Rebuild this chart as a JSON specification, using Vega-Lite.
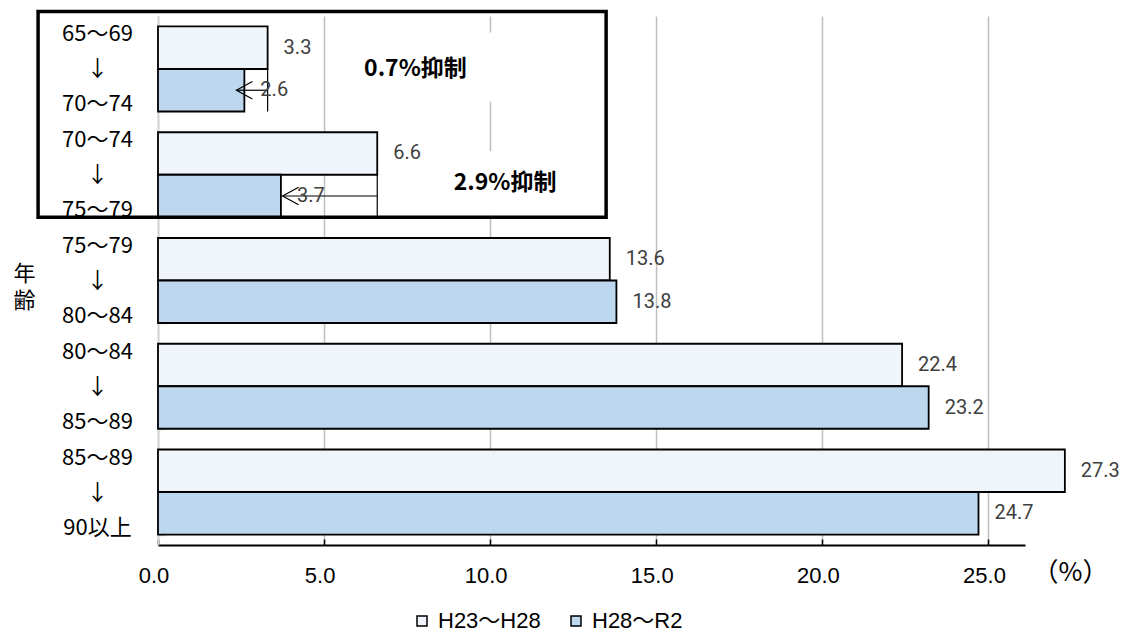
{
  "$schema": "https://vega.github.io/schema/vega-lite/v6.json",
  "width": 867,
  "height": 529,
  "autosize": {"type": "none"},
  "padding": {"left": 158, "top": 16, "right": 97, "bottom": 87},
  "background": "white",
  "config": {"view": {"stroke": null}, "font": "Liberation Sans, Noto Sans CJK JP"},
  "datasets": {
    "bars": [
      {"age": "65～69\n↓\n70～74", "period": "H23～H28", "rate": 3.3},
      {"age": "65～69\n↓\n70～74", "period": "H28～R2", "rate": 2.6},
      {"age": "70～74\n↓\n75～79", "period": "H23～H28", "rate": 6.6},
      {"age": "70～74\n↓\n75～79", "period": "H28～R2", "rate": 3.7},
      {"age": "75～79\n↓\n80～84", "period": "H23～H28", "rate": 13.6},
      {"age": "75～79\n↓\n80～84", "period": "H28～R2", "rate": 13.8},
      {"age": "80～84\n↓\n85～89", "period": "H23～H28", "rate": 22.4},
      {"age": "80～84\n↓\n85～89", "period": "H28～R2", "rate": 23.2},
      {"age": "85～89\n↓\n90以上", "period": "H23～H28", "rate": 27.3},
      {"age": "85～89\n↓\n90以上", "period": "H28～R2", "rate": 24.7}
    ],
    "arrows": [
      {"age": "65～69\n↓\n70～74", "period": "H28～R2", "from": 3.3, "to": 2.36},
      {"age": "70～74\n↓\n75～79", "period": "H28～R2", "from": 6.6, "to": 3.75}
    ],
    "box": [
      {"top": "65～69\n↓\n70～74", "bottom": "70～74\n↓\n75～79", "left": -3.61, "right": 13.49}
    ],
    "note1": [{"age": "65～69\n↓\n70～74", "x": 7.75, "left": 6.0, "right": 13.3, "text": "0.7%抑制"}],
    "note2": [{"age": "70～74\n↓\n75～79", "x": 10.45, "left": 7.0, "right": 13.3, "text": "2.9%抑制"}]
  },
  "layer": [
    {
      "data": {"name": "bars"},
      "mark": {"type": "bar", "stroke": "black", "strokeWidth": 1.8},
      "encoding": {
        "y": {
          "field": "age", "type": "nominal",
          "scale": {
            "domain": ["65～69\n↓\n70～74", "70～74\n↓\n75～79", "75～79\n↓\n80～84", "80～84\n↓\n85～89", "85～89\n↓\n90以上"],
            "paddingInner": 0.196, "paddingOuter": 0.099
          },
          "axis": {
            "title": ["年", "齢"], "titleAngle": 0, "titleX": -134, "titleY": 257,
            "titleAlign": "center", "titleBaseline": "middle", "titleLineHeight": 27,
            "titleFontSize": 22, "titleFontWeight": "normal", "titleColor": "black",
            "titleFont": "Noto Sans CJK JP",
            "labelExpr": "split(datum.label, '\\n')",
            "labelAlign": "center", "labelBaseline": "middle", "labelLineHeight": 35,
            "labelOffset": -35,
            "labelFontSize": 22, "labelFont": "Noto Sans CJK JP", "labelPadding": 68, "labelColor": "black",
            "tickSize": -7, "tickBand": "extent", "tickColor": "#D0D0D0", "tickWidth": 1.5,
            "domainColor": "#D0D0D0", "domainWidth": 1.5, "grid": false, "labelOverlap": false
          }
        },
        "yOffset": {
          "field": "period", "type": "nominal",
          "scale": {"domain": ["H23～H28", "H28～R2"], "paddingInner": 0, "paddingOuter": 0}
        },
        "x": {
          "field": "rate", "type": "quantitative",
          "scale": {"domain": [0, 26.1], "nice": false, "zero": true},
          "axis": {
            "values": [0, 5, 10, 15, 20, 25], "format": ".1f",
            "grid": true, "gridColor": "#BFBFBF", "gridWidth": 1.5,
            "domainColor": "black", "domainWidth": 2,
            "tickColor": "black", "tickSize": -6, "tickWidth": 1.5,
            "labelPadding": 36, "labelBaseline": "middle", "labelFontSize": 22,
            "labelColor": "black", "labelFont": "Liberation Sans", "labelOffset": -4.5,
            "labelFlush": false, "labelOverlap": false,
            "title": "（%）", "titleX": 912, "titleY": 27, "titleFontSize": 26,
            "titleFontWeight": "normal", "titleAlign": "center", "titleBaseline": "middle",
            "titleColor": "black", "titleFont": "Noto Sans CJK JP"
          }
        },
        "fill": {
          "field": "period", "type": "nominal",
          "scale": {"domain": ["H23～H28", "H28～R2"], "range": ["#EFF5FB", "#BDD7EE"]},
          "legend": {
            "orient": "none", "legendX": 253, "legendY": 594, "direction": "horizontal",
            "title": null, "symbolType": "square", "symbolSize": 100,
            "symbolStrokeColor": "black", "symbolStrokeWidth": 1.5,
            "labelFontSize": 22, "labelFont": "Liberation Sans, Noto Sans CJK JP",
            "labelColor": "black", "columnPadding": 24, "labelOffset": 5
          }
        }
      }
    },
    {
      "data": {"name": "note1"},
      "mark": {"type": "rect", "fill": "white", "yOffset": 6, "y2Offset": 32.5},
      "encoding": {
        "x": {"field": "left", "type": "quantitative"},
        "x2": {"field": "right"},
        "y": {"field": "age", "type": "nominal", "bandPosition": 0},
        "y2": {"field": "age"}
      }
    },
    {
      "data": {"name": "note2"},
      "mark": {"type": "rect", "fill": "white", "yOffset": 19, "y2Offset": 41},
      "encoding": {
        "x": {"field": "left", "type": "quantitative"},
        "x2": {"field": "right"},
        "y": {"field": "age", "type": "nominal", "bandPosition": 0},
        "y2": {"field": "age"}
      }
    },
    {
      "data": {"name": "box"},
      "mark": {"type": "rect", "fill": "transparent", "stroke": "black", "strokeWidth": 3.5, "y2Offset": -57.5},
      "encoding": {
        "x": {"field": "left", "type": "quantitative"},
        "x2": {"field": "right"},
        "y": {"field": "bottom", "type": "nominal", "bandPosition": 1},
        "y2": {"field": "top"}
      }
    },
    {
      "data": {"name": "arrows"},
      "mark": {"type": "bar", "fill": "transparent", "stroke": "black", "strokeWidth": 1.2},
      "encoding": {
        "x": {"field": "from", "type": "quantitative"},
        "x2": {"field": "from"},
        "y": {"field": "age", "type": "nominal"},
        "yOffset": {"field": "period", "type": "nominal"}
      }
    },
    {
      "data": {"name": "arrows"},
      "mark": {"type": "rule", "stroke": "black", "strokeWidth": 1.2},
      "encoding": {
        "x": {"field": "from", "type": "quantitative"},
        "x2": {"field": "to"},
        "y": {"field": "age", "type": "nominal"},
        "yOffset": {"field": "period", "type": "nominal"}
      }
    },
    {
      "data": {"name": "arrows"},
      "mark": {"type": "point", "shape": "M2,-1.1L0,0L2,1.1", "size": 256, "filled": false, "stroke": "black", "strokeWidth": 1.2, "opacity": 1},
      "encoding": {
        "x": {"field": "to", "type": "quantitative"},
        "y": {"field": "age", "type": "nominal"},
        "yOffset": {"field": "period", "type": "nominal"}
      }
    },
    {
      "data": {"name": "bars"},
      "mark": {"type": "text", "align": "left", "baseline": "middle", "dx": 16, "fontSize": 20, "font": "Roboto", "color": "#404040"},
      "encoding": {
        "x": {"field": "rate", "type": "quantitative"},
        "y": {"field": "age", "type": "nominal"},
        "yOffset": {"field": "period", "type": "nominal"},
        "text": {"field": "rate", "type": "quantitative", "format": ".1f"}
      }
    },
    {
      "data": {"name": "note1"},
      "mark": {"type": "text", "align": "center", "baseline": "middle", "fontSize": 23, "fontWeight": "bold", "font": "Noto Sans CJK JP", "color": "black"},
      "encoding": {
        "x": {"field": "x", "type": "quantitative"},
        "y": {"field": "age", "type": "nominal"},
        "text": {"field": "text"}
      }
    },
    {
      "data": {"name": "note2"},
      "mark": {"type": "text", "align": "center", "baseline": "middle", "dy": 8, "fontSize": 23, "fontWeight": "bold", "font": "Noto Sans CJK JP", "color": "black"},
      "encoding": {
        "x": {"field": "x", "type": "quantitative"},
        "y": {"field": "age", "type": "nominal"},
        "text": {"field": "text"}
      }
    }
  ]
}
